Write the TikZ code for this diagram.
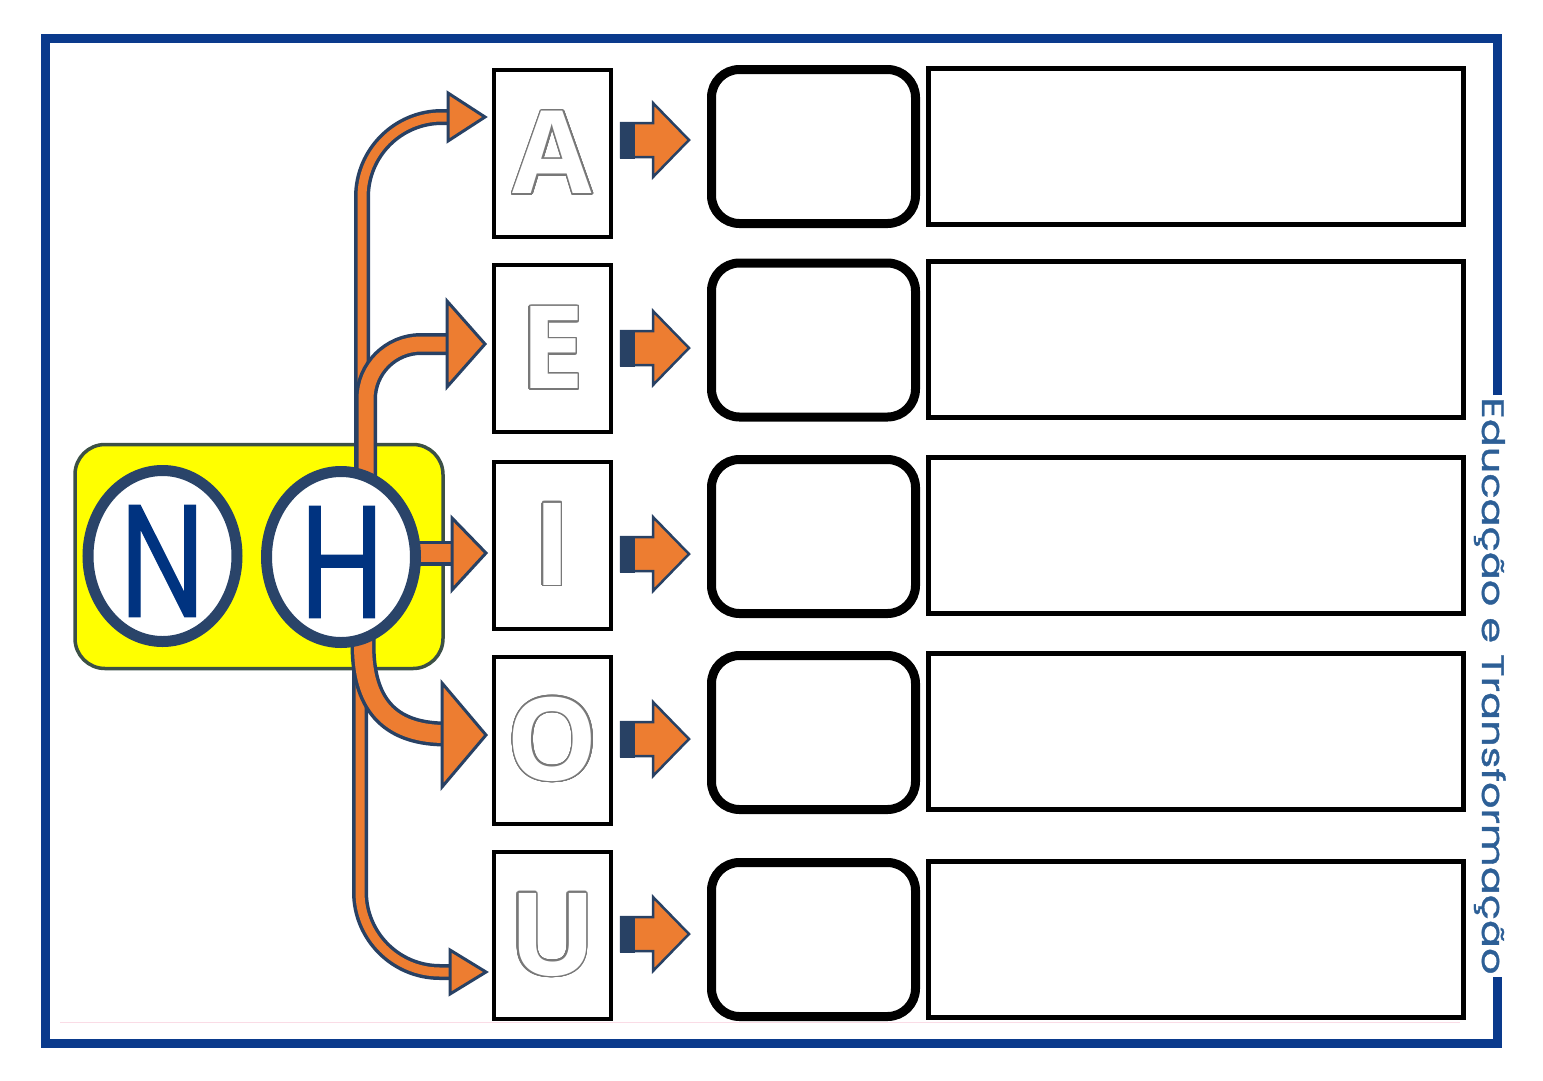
\documentclass[tikz,border=0pt]{standalone}
\usepackage{fontspec}
\usepackage{graphicx}
\usepackage{contour}
\usetikzlibrary{shapes.geometric,calc}
\newfontfamily\lettfont{Open Sans}
\newfontfamily\nhfont{Poppins}[FakeBold=0.8]
\newfontfamily\sigfont{Poppins}[FakeBold=1]
\definecolor{frameblue}{RGB}{10,58,140}
\definecolor{ringblue}{RGB}{42,68,105}
\definecolor{letterblue}{RGB}{0,51,128}
\definecolor{aorange}{RGB}{237,125,49}
\definecolor{arrowblue}{RGB}{40,65,100}
\definecolor{yfill}{RGB}{255,255,0}
\definecolor{ydraw}{RGB}{60,80,70}
\definecolor{sigblue}{RGB}{45,95,150}
\definecolor{lgray}{RGB}{120,120,120}
\definecolor{faintpink}{RGB}{250,220,230}
\contourlength{1.5pt}
\contournumber{32}
\newcommand\hollow[1]{{\color{white}\contour{lgray}{#1}}}
\begin{document}
\begin{tikzpicture}[x=1pt,y=-1pt,
  framestyle/.style={draw=frameblue,line width=9pt,line join=miter},
  lbox/.style={draw=black,line width=4pt,fill=white,minimum width=117pt,minimum height=167pt,inner sep=0pt,
    font=\lettfont\bfseries\fontsize{115}{115}\selectfont},
  rbox/.style={draw=black,line width=9pt,rounded corners=28pt,minimum width=204pt,minimum height=154pt,inner sep=0pt},
  wbox/.style={draw=black,line width=5pt,minimum width=535pt,minimum height=156pt,inner sep=0pt},
  ybox/.style={draw=ydraw,fill=yfill,line width=3.5pt,rounded corners=30pt,minimum width=368pt,minimum height=224pt,inner sep=0pt},
  ring/.style={ellipse,draw=ringblue,line width=11pt,fill=white,minimum width=149pt,minimum height=171pt,inner sep=0pt},
  nhletter/.style={text=letterblue,inner sep=0pt,font=\nhfont\fontsize{160}{160}\selectfont},
  outerline/.style={draw=arrowblue,line width=#1},
  innerline/.style={draw=aorange,line width=#1},
  headstyle/.style={fill=aorange,draw=arrowblue,line width=3pt,line join=miter},
  smallarrow/.style={fill=aorange,draw=arrowblue,line width=2.5pt,line join=miter},
]
\useasboundingbox (0,0) rectangle (1543,1080);

% outer frame
\draw[framestyle] (1497,395) -- (1497,38) -- (45,38) -- (45,1043) -- (1497,1043) -- (1497,977);
\draw[faintpink,line width=1pt] (60,1022) -- (1460,1022);
\node[rotate=-90,anchor=base,inner sep=0pt,text=sigblue,font=\sigfont\fontsize{31}{31}\selectfont] (sig) at (1482,686)
  {\resizebox{577pt}{\height}{Educação e Transformação}};

% yellow box
\node[ybox] (Y) at (259,556.5) {};

% letter boxes
\node[lbox] (A) at (552.5,153.5) {\hollow{A}};
\node[lbox] (E) at (552.5,348.5) {\hollow{E}};
\node[lbox] (I) at (552.5,545) {\hollow{I}};
\node[lbox] (O) at (552.5,740) {\hollow{O}};
\node[lbox] (U) at (552.5,935.5) {\hollow{U}};

% rounded boxes
\node[rbox] (R1) at (813.5,146.5) {};
\node[rbox] (R2) at (813.5,340) {};
\node[rbox] (R3) at (813.5,536.5) {};
\node[rbox] (R4) at (813.5,732.5) {};
\node[rbox] (R5) at (813.5,939.5) {};

% wide boxes
\node[wbox] (W1) at (1196,146.5) {};
\node[wbox] (W2) at (1196,339.5) {};
\node[wbox] (W3) at (1196,535.5) {};
\node[wbox] (W4) at (1196,731.5) {};
\node[wbox] (W5) at (1196,939.5) {};

% small arrows
\foreach \c in {140,348,554,739,934}{
  \draw[smallarrow] (621,\c-17) -- (653,\c-17) -- (653,\c-37) -- (689,\c) -- (653,\c+37) -- (653,\c+17) -- (621,\c+17) -- cycle;
  \fill[arrowblue] (620,\c-18.5) rectangle (635,\c+18.5);
}

% big arrows from H
\coordinate (sA) at (362,520);  \coordinate (hA) at (452,117);
\coordinate (sE) at (366,520);  \coordinate (hE) at (450,344);
\coordinate (sI) at (400,553);  \coordinate (hI) at (455,553);
\coordinate (sO) at (363,600);  \coordinate (hO) at (446,734);
\coordinate (sU) at (360,600);  \coordinate (hU) at (455,972);

\draw[outerline=16pt,rounded corners=80pt] (sA) |- (hA);
\draw[innerline=9pt,rounded corners=80pt] (sA) |- (hA);
\draw[outerline=16pt,rounded corners=80pt] (sU) |- (hU);
\draw[innerline=9pt,rounded corners=80pt] (sU) |- (hU);
\draw[outerline=22pt,rounded corners=55pt] (sE) |- (hE);
\draw[innerline=15pt,rounded corners=55pt] (sE) |- (hE);
\draw[outerline=25pt] (sI) -- (hI);
\draw[innerline=18pt] (sI) -- (hI);
\draw[outerline=25pt] (sO) -- ++(0,45) .. controls (363,710) and (395,734) .. (hO);
\draw[innerline=18pt] (sO) -- ++(0,45) .. controls (363,710) and (395,734) .. (hO);

\draw[headstyle] (448,93) -- (485,117) -- (448,141) -- cycle;
\draw[headstyle] (447,301) -- (485,344) -- (447,387) -- cycle;
\draw[headstyle] (452,518) -- (486,553) -- (452,590) -- cycle;
\draw[headstyle] (442,683) -- (486,735) -- (442,787) -- cycle;
\draw[headstyle] (450,950) -- (486,972) -- (450,994) -- cycle;

% rings and letters
\node[ring] (N) at (162.5,556) {};
\node[ring] (H) at (341,557) {};
\node[nhletter] (Nl) at (162.5,561) {\scalebox{0.76}[1]{N}};
\node[nhletter] (Hl) at (342,562) {\scalebox{0.76}[1]{H}};
\end{tikzpicture}
\end{document}
